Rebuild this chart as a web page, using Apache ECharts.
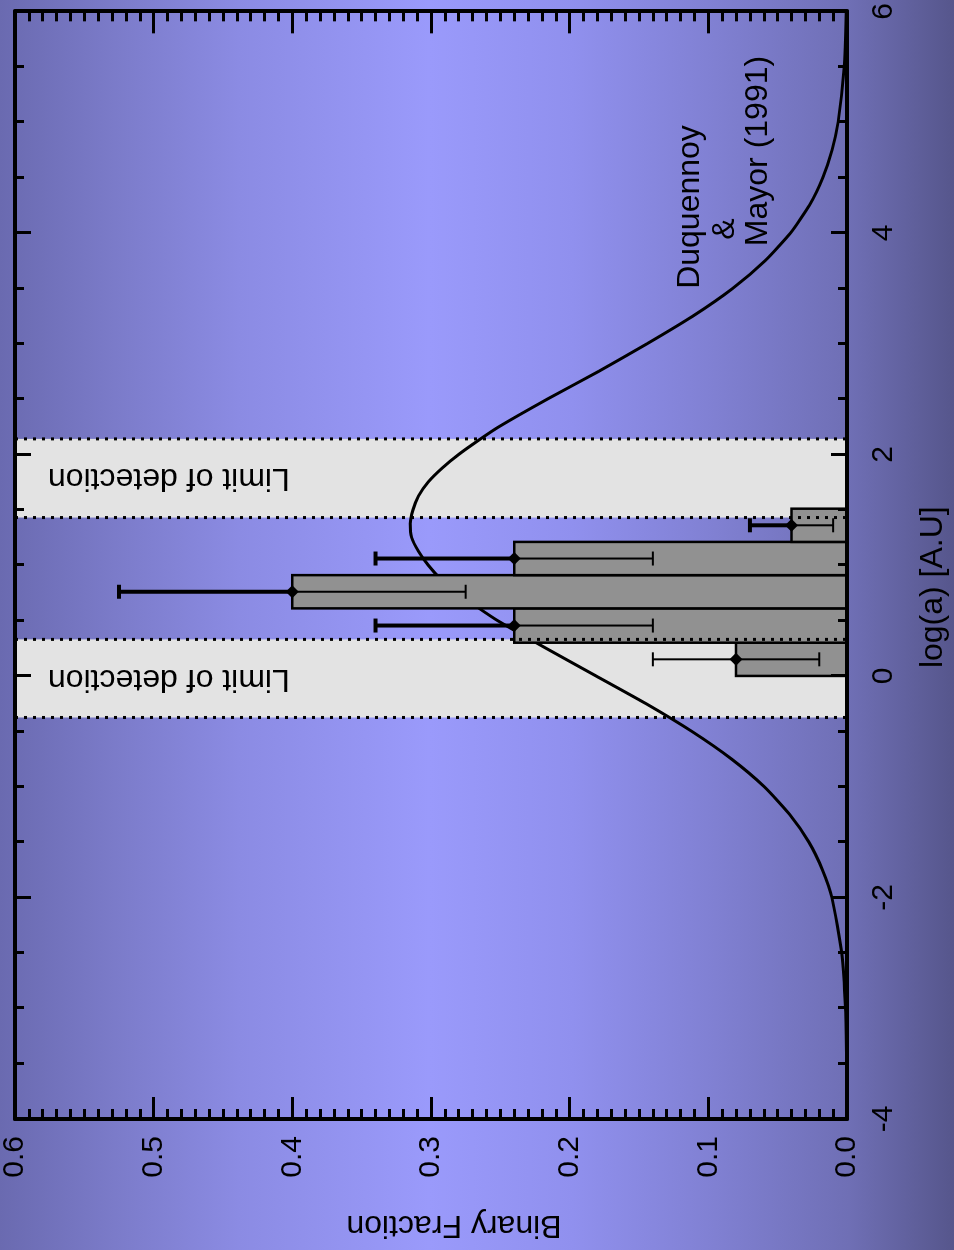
<!DOCTYPE html>
<html>
<head>
<meta charset="utf-8">
<script src="https://cdn.jsdelivr.net/npm/echarts@6/dist/echarts.min.js"></script>
<style>
  html, body { margin: 0; padding: 0; width: 954px; height: 1250px; overflow: hidden; background: #6a6ab0; }
  /* The figure is laid out landscape and turned a quarter turn counter-clockwise onto the page. */
  #chart {
    position: absolute; left: 0; top: 0;
    width: 1250px; height: 954px;
    transform-origin: 0 0;
    transform: translate(0, 1250px) rotate(-90deg);
    background: linear-gradient(to bottom,
      #6a6ab0 0%, #7b7bc9 12%, #8b8be3 25%, #9a9afb 45%,
      #9090ee 60%, #8080d2 75%, #6f6fb5 89%, #56568c 100%);
  }
</style>
</head>
<body>
<div id="chart"></div>
<script>
// Histogram bins in log(a) [A.U] and the measured binary fraction per bin
const binStart = [0.00, 0.30, 0.61, 0.91, 1.21];
const binEnd = [0.30, 0.61, 0.91, 1.21, 1.51];
const binaryFraction = [0.08, 0.24, 0.40, 0.24, 0.04];
const fractionError = [0.06, 0.10, 0.125, 0.10, 0.03];

// Separation ranges outside the survey's sensitivity
const limitStart = [-0.375, 1.43];
const limitEnd = [0.33, 2.14];

// Duquennoy & Mayor (1991) separation distribution
const curveLogA = [-4.0, -3.5, -3.0, -2.5, -2.0, -1.75, -1.5, -1.25, -1.0, -0.75, -0.5, -0.25,
  0.0, 0.25, 0.5, 0.625, 0.75, 0.875, 1.0, 1.125, 1.25, 1.375, 1.5, 1.625, 1.75, 1.875, 2.0, 2.125,
  2.25, 2.5, 2.75, 3.0, 3.25, 3.5, 3.75, 4.0, 4.25, 4.5, 4.75, 5.0, 5.5, 6.0];
const curveFraction = [0.0001, 0.0003, 0.0011, 0.0038, 0.0109, 0.0177, 0.0275, 0.0414, 0.0597, 0.0833, 0.112, 0.145,
  0.181, 0.217, 0.252, 0.267, 0.281, 0.293, 0.302, 0.309, 0.314, 0.315, 0.313, 0.309, 0.302, 0.292, 0.280, 0.266,
  0.251, 0.216, 0.179, 0.144, 0.111, 0.0823, 0.0590, 0.0407, 0.0271, 0.0174, 0.0107, 0.0064, 0.0020, 0.0006];

// Axis ticks
const logTicks = [-4, -2, 0, 2, 4, 6];
const logTickLabels = ['-4', '-2', '0', '2', '4', '6'];
const fractionTicks = [0.0, 0.1, 0.2, 0.3, 0.4, 0.5, 0.6];
const fractionTickLabels = ['0.0', '0.1', '0.2', '0.3', '0.4', '0.5', '0.6'];

const FONT = "'Liberation Sans', Arial, Helvetica, sans-serif";

const chart = echarts.init(document.getElementById('chart'), null, { renderer: 'canvas' });

function inLimitBand(x) {
  for (let i = 0; i < limitStart.length; i++) {
    if (x >= limitStart[i] && x <= limitEnd[i]) return true;
  }
  return false;
}

function logLabel(v) {
  const i = logTicks.findIndex(t => Math.abs(t - v) < 1e-6);
  return i >= 0 ? logTickLabels[i] : '';
}
function fractionLabel(v) {
  const i = fractionTicks.findIndex(t => Math.abs(t - v) < 1e-6);
  return i >= 0 ? fractionTickLabels[i] : '';
}

const logMin = logTicks[0], logMax = logTicks[logTicks.length - 1];
const fracMin = fractionTicks[0], fracMax = fractionTicks[fractionTicks.length - 1];

const bandData = limitStart.map((s, i) => [s, limitEnd[i]]);
const barData = binStart.map((s, i) => [s, binEnd[i], binaryFraction[i]]);
const errData = binStart.map((s, i) => [(s + binEnd[i]) / 2, binaryFraction[i], fractionError[i]]);
const curveData = curveLogA.map((x, i) => [x, curveFraction[i]]);

const frameLine = { show: true, onZero: false, lineStyle: { color: '#000', width: 4 } };

function logAxis(position, showLabels) {
  return {
    type: 'value', position, min: logMin, max: logMax, interval: 2,
    z: 10,
    axisLine: frameLine,
    axisTick: { show: true, inside: true, length: 16, lineStyle: { color: '#000', width: 3 } },
    minorTick: { show: true, splitNumber: 4, length: 9, lineStyle: { color: '#000', width: 3 } },
    splitLine: { show: false }, minorSplitLine: { show: false },
    axisLabel: { show: showLabels, margin: 22, fontSize: 30, fontFamily: FONT, color: '#000', formatter: logLabel },
    name: showLabels ? 'log(a) [A.U]' : '',
    nameLocation: 'middle', nameGap: 70,
    nameTextStyle: { fontSize: 32, fontFamily: FONT, color: '#000', padding: [0, 44, 0, 0] }
  };
}
function fracAxis(position, showLabels) {
  return {
    type: 'value', position, min: fracMin, max: fracMax, interval: 0.1,
    z: 10,
    axisLine: frameLine,
    axisTick: { show: true, inside: true, length: 22, lineStyle: { color: '#000', width: 3 } },
    minorTick: { show: true, splitNumber: 10, length: 10, lineStyle: { color: '#000', width: 3 } },
    splitLine: { show: false }, minorSplitLine: { show: false },
    axisLabel: { show: showLabels, margin: 17, fontSize: 30, fontFamily: FONT, color: '#000', formatter: fractionLabel },
    name: showLabels ? 'Binary Fraction' : '',
    nameLocation: 'middle', nameGap: 90,
    nameTextStyle: { fontSize: 32, fontFamily: FONT, color: '#000', padding: [0, 46, 0, 0] }
  };
}

const option = {
  backgroundColor: 'transparent',
  animation: false,
  grid: { left: 131, right: 9, top: 12, bottom: 106, containLabel: false },
  xAxis: [logAxis('bottom', true), logAxis('top', false)],
  yAxis: [fracAxis('left', true), fracAxis('right', false)],
  graphic: [
    { type: 'text', x: 1043, y: 690, z: 20,
      style: { text: 'Duquennoy', font: '32px ' + FONT, fill: '#000', align: 'center', verticalAlign: 'middle' } },
    { type: 'text', x: 1021, y: 725, z: 20,
      style: { text: '&', font: '32px ' + FONT, fill: '#000', align: 'center', verticalAlign: 'middle' } },
    { type: 'text', x: 1099, y: 758, z: 20,
      style: { text: 'Mayor (1991)', font: '32px ' + FONT, fill: '#000', align: 'center', verticalAlign: 'middle' } }
  ],
  series: [
    {
      // shaded detection-limit ranges with their captions
      type: 'custom', name: 'limits', z: 1,
      xAxisIndex: 0, yAxisIndex: 0,
      encode: { x: [0, 1] },
      data: bandData,
      renderItem: function (params, api) {
        const a = api.coord([api.value(0), fracMax]);
        const b = api.coord([api.value(1), fracMin]);
        const cx = (a[0] + b[0]) / 2;
        const cy = a[1] + (b[1] - a[1]) * 0.185;
        return {
          type: 'group',
          children: [
            { type: 'rect', shape: { x: a[0], y: a[1], width: b[0] - a[0], height: b[1] - a[1] },
              style: { fill: '#e3e3e3' } },
            { type: 'text', x: cx, y: cy, rotation: Math.PI / 2,
              style: { text: 'Limit of detection', font: '32px ' + FONT, fill: '#000',
                       align: 'center', verticalAlign: 'middle' } }
          ]
        };
      }
    },
    {
      type: 'line', name: 'Duquennoy & Mayor (1991)', z: 2,
      xAxisIndex: 0, yAxisIndex: 0,
      data: curveData, smooth: 0.2, showSymbol: false,
      lineStyle: { color: '#000', width: 3 }
    },
    {
      type: 'custom', name: 'binary fraction', z: 3,
      xAxisIndex: 0, yAxisIndex: 0,
      encode: { x: [0, 1], y: 2 },
      data: barData,
      renderItem: function (params, api) {
        const a = api.coord([api.value(0), api.value(2)]);
        const b = api.coord([api.value(1), 0]);
        return { type: 'rect', shape: { x: a[0], y: a[1], width: b[0] - a[0], height: b[1] - a[1] },
                 style: { fill: '#919191', stroke: '#000', lineWidth: 2.5 } };
      }
    },
    {
      // dotted edges of the detection-limit ranges
      type: 'custom', name: 'limit edges', z: 4,
      xAxisIndex: 0, yAxisIndex: 0,
      encode: { x: [0, 1] },
      data: bandData,
      renderItem: function (params, api) {
        const children = [];
        [api.value(0), api.value(1)].forEach(function (x) {
          const top = api.coord([x, fracMax]);
          const bot = api.coord([x, fracMin]);
          children.push({ type: 'line', shape: { x1: top[0], y1: top[1], x2: bot[0], y2: bot[1] },
                          style: { stroke: '#000', lineWidth: 3, lineDash: [3, 6] } });
        });
        return { type: 'group', children: children };
      }
    },
    {
      type: 'custom', name: 'errors', z: 5,
      xAxisIndex: 0, yAxisIndex: 0,
      encode: { x: 0, y: 1 },
      data: errData,
      renderItem: function (params, api) {
        const xc = api.value(0), v = api.value(1), e = api.value(2);
        const hi = api.coord([xc, v + e]);
        const mid = api.coord([xc, v]);
        const lo = api.coord([xc, v - e]);
        const wHi = inLimitBand(xc) ? 2 : 4;
        const cap = 7, d = 6.5;
        return {
          type: 'group',
          children: [
            { type: 'line', shape: { x1: mid[0], y1: mid[1], x2: hi[0], y2: hi[1] }, style: { stroke: '#000', lineWidth: wHi } },
            { type: 'line', shape: { x1: hi[0] - cap, y1: hi[1], x2: hi[0] + cap, y2: hi[1] }, style: { stroke: '#000', lineWidth: wHi } },
            { type: 'line', shape: { x1: mid[0], y1: mid[1], x2: lo[0], y2: lo[1] }, style: { stroke: '#000', lineWidth: 2 } },
            { type: 'line', shape: { x1: lo[0] - cap, y1: lo[1], x2: lo[0] + cap, y2: lo[1] }, style: { stroke: '#000', lineWidth: 2 } },
            { type: 'polygon', shape: { points: [[mid[0], mid[1] - d], [mid[0] + d, mid[1]], [mid[0], mid[1] + d], [mid[0] - d, mid[1]]] },
              style: { fill: '#000' } }
          ]
        };
      }
    }
  ]
};

chart.setOption(option);
</script>
</body>
</html>
